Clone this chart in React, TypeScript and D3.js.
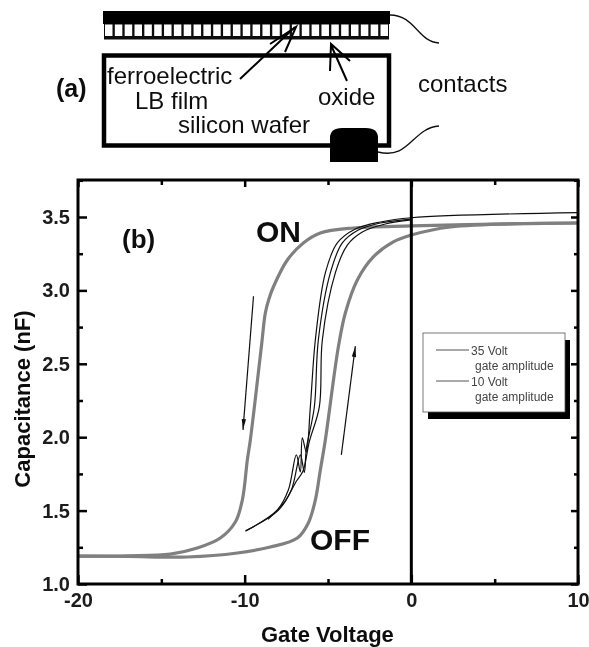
import React, { useEffect, useRef } from 'react';
import * as d3 from 'd3';

type Pt = [number, number];

// gate voltage, capacitance
const onBranch: Pt[] = [[10, 3.459], [5, 3.452], [0, 3.439], [-3.48, 3.425], [-5.46, 3.391], [-6.48, 3.323], [-7.44, 3.207], [-8.28, 3.023], [-8.55, 2.94], [-8.76, 2.846], [-9.0, 2.614], [-9.66, 1.981], [-9.84, 1.845], [-10.14, 1.572], [-10.56, 1.422], [-11.46, 1.313], [-12.84, 1.245], [-14.46, 1.204], [-17, 1.192], [-20, 1.19]];
const offBranch: Pt[] = [[-20, 1.19], [-17, 1.188], [-13.44, 1.184], [-10.44, 1.211], [-8.46, 1.252], [-6.84, 1.313], [-6.18, 1.416], [-5.76, 1.572], [-5.46, 1.777], [-5.16, 1.981], [-4.38, 2.614], [-3.96, 2.846], [-3.24, 3.071], [-2.28, 3.228], [-1.08, 3.33], [0, 3.377], [2.34, 3.432], [10, 3.459]];
const innerA: Pt[] = [[-9.96, 1.36], [-8.04, 1.504], [-7.38, 1.64], [-6.9, 1.879], [-6.66, 1.763], [-6.54, 1.995], [-6.3, 1.9], [-6.06, 2.206], [-5.76, 2.662], [-5.16, 3.119], [-4.44, 3.323], [-3.36, 3.418], [-1.86, 3.466], [0, 3.495], [10, 3.53]];
const innerB: Pt[] = [[-9.9, 1.365], [-8.0, 1.5], [-7.2, 1.64], [-6.66, 1.88], [-6.42, 1.76], [-6.3, 1.92], [-5.82, 2.206], [-5.58, 2.662], [-4.86, 3.119], [-4.14, 3.323], [-3.18, 3.411], [-1.86, 3.459], [0, 3.486]];
const innerC: Pt[] = [[-8.6, 1.44], [-7.6, 1.56], [-6.9, 1.7], [-6.5, 1.77], [-6.12, 1.97], [-5.52, 2.206], [-5.34, 2.662], [-4.56, 3.119], [-3.84, 3.309], [-2.94, 3.398], [-1.56, 3.452], [0, 3.48]];

const xTicks = [-20, -10, 0, 10];
const xMinor = [-15, -5, 5];
const yTicks = [1.0, 1.5, 2.0, 2.5, 3.0, 3.5];
const yMinor = [1.25, 1.75, 2.25, 2.75, 3.25, 3.75];
const legendRows = ['35 Volt', 'gate amplitude', '10 Volt', 'gate amplitude'];
const filmCells = d3.range(29);

const sans = '"Liberation Sans", Arial, sans-serif';

export default function App() {
  const ref = useRef<SVGSVGElement>(null);

  useEffect(() => {
    const svg = d3.select(ref.current);
    svg.selectAll('*').remove();

    const defs = svg.append('defs');
    defs.append('filter').attr('id', 'soft').attr('x', 0).attr('y', 0).attr('width', 1).attr('height', 1)
      .append('feGaussianBlur').attr('stdDeviation', 0.45);

    const root = svg.append('g').attr('filter', 'url(#soft)');
    root.append('rect').attr('width', 589).attr('height', 647).attr('fill', '#fff');

    // panel (a), the device sketch
    const a = root.append('g');
    a.append('rect').attr('x', 103).attr('y', 11).attr('width', 287).attr('height', 13).attr('fill', '#000');
    a.append('rect').attr('x', 104).attr('y', 24).attr('width', 285).attr('height', 15.5).attr('fill', '#111');
    const cellX = d3.scaleBand<number>().domain(filmCells).range([105, 388]).paddingInner(0.24);
    a.selectAll('.cell').data(filmCells).join('rect')
      .attr('x', d => cellX(d)!).attr('y', 24.5).attr('width', cellX.bandwidth()).attr('height', 11.5).attr('fill', '#fff');
    a.append('rect').attr('x', 105).attr('y', 40).attr('width', 283).attr('height', 12).attr('fill', '#fff');
    a.append('rect').attr('x', 104).attr('y', 55.5).attr('width', 285).attr('height', 90)
      .attr('fill', 'none').attr('stroke', '#000').attr('stroke-width', 4.5);
    a.append('path').attr('d', 'M330,162V138Q330,128 342,128H366Q378,128 378,138V162Z').attr('fill', '#000');
    a.append('path').attr('fill', 'none').attr('stroke', '#111').attr('stroke-width', 1.3)
      .attr('d', 'M390,15C415,15 418,42 439,43');
    a.append('path').attr('fill', 'none').attr('stroke', '#111').attr('stroke-width', 1.3)
      .attr('d', 'M378,152C410,160 412,128 439,126');
    a.append('path').attr('fill', 'none').attr('stroke', '#000').attr('stroke-width', 2)
      .attr('d', 'M240,79L295,27M270,44L296,27L285,52');
    a.append('path').attr('fill', 'none').attr('stroke', '#000').attr('stroke-width', 2)
      .attr('d', 'M347,81L331,45M350,61L331,44L330,71');
    const sketchText = (s: string, x: number, y: number, size: number, weight = 'normal') =>
      a.append('text').attr('x', x).attr('y', y).attr('font-family', sans).attr('font-size', size)
        .attr('font-weight', weight).attr('fill', '#111').text(s);
    sketchText('(a)', 56, 97, 25, 'bold');
    sketchText('ferroelectric', 107, 84, 24);
    sketchText('LB film', 135, 109, 24);
    sketchText('silicon wafer', 178, 133, 24);
    sketchText('oxide', 318, 105, 24);
    sketchText('contacts', 418, 92, 24);

    // panel (b), the C-V loops
    const x = d3.scaleLinear().domain([-20, 10]).range([78, 578]);
    const y = d3.scaleLinear().domain([1, 3.752]).range([584, 180]);
    const line = d3.line<Pt>().x(d => x(d[0])).y(d => y(d[1])).curve(d3.curveCatmullRom.alpha(0.5));

    const plot = root.append('g');
    const grayCurves = [onBranch, offBranch];
    plot.selectAll('.gray').data(grayCurves).join('path')
      .attr('d', d => line(d)).attr('fill', 'none').attr('stroke', '#808080').attr('stroke-width', 3.2);
    const thinCurves = [innerA, innerB, innerC];
    plot.selectAll('.thin').data(thinCurves).join('path')
      .attr('d', d => line(d)).attr('fill', 'none').attr('stroke', '#111').attr('stroke-width', 1.2);

    const hyphen = (f: (n: number) => string) => (d: any) => f(d).replace('\u2212', '-');
    const yMajorAxis = d3.axisLeft(y).tickValues(yTicks).tickFormat(d3.format('.1f')).tickSizeInner(-9).tickSizeOuter(0).tickPadding(8);
    const xMajorAxis = d3.axisBottom(x).tickValues(xTicks).tickFormat(hyphen(d3.format('d'))).tickSizeInner(-9).tickSizeOuter(0).tickPadding(9);
    const styleAxis = (g: any) => {
      g.selectAll('.domain').remove();
      g.selectAll('line').attr('stroke', '#000').attr('stroke-width', 2.5);
      g.selectAll('text').attr('font-family', sans).attr('font-size', 20).attr('font-weight', 'bold').attr('fill', '#1a1a1a');
    };
    root.append('g').attr('transform', 'translate(78,0)').call(yMajorAxis).call(styleAxis);
    root.append('g').attr('transform', 'translate(0,584)').call(xMajorAxis).call(styleAxis);
    root.append('g').attr('transform', 'translate(78,0)')
      .call(d3.axisLeft(y).tickValues(yMinor).tickFormat(() => '').tickSizeInner(-5).tickSizeOuter(0)).call(styleAxis);
    root.append('g').attr('transform', 'translate(0,584)')
      .call(d3.axisBottom(x).tickValues(xMinor).tickFormat(() => '').tickSizeInner(-5).tickSizeOuter(0)).call(styleAxis);
    root.append('g').attr('transform', 'translate(578,0)')
      .call(d3.axisRight(y).tickValues(yTicks).tickFormat(() => '').tickSizeInner(-7).tickSizeOuter(0)).call(styleAxis);
    root.append('g').attr('transform', 'translate(578,0)')
      .call(d3.axisRight(y).tickValues(yMinor).tickFormat(() => '').tickSizeInner(-4).tickSizeOuter(0)).call(styleAxis);
    root.append('g').attr('transform', 'translate(0,180)')
      .call(d3.axisTop(x).tickValues(xMinor).tickFormat(() => '').tickSizeInner(-5).tickSizeOuter(0)).call(styleAxis);
    root.append('g').attr('transform', 'translate(0,180)')
      .call(d3.axisTop(x).tickValues(xTicks).tickFormat(() => '').tickSizeInner(-7).tickSizeOuter(0)).call(styleAxis);

    root.append('rect').attr('x', x(-20)).attr('y', y(3.752)).attr('width', x(10) - x(-20)).attr('height', y(1) - y(3.752))
      .attr('fill', 'none').attr('stroke', '#000').attr('stroke-width', 3);
    root.append('line').attr('x1', x(0)).attr('x2', x(0)).attr('y1', y(3.752)).attr('y2', y(1))
      .attr('stroke', '#000').attr('stroke-width', 3);

    // direction arrows
    const arrow = (v0: number, c0: number, v1: number, c1: number) => {
      const angle = Math.atan2(y(c1) - y(c0), x(v1) - x(v0));
      const hx = x(v1), hy = y(c1);
      plot.append('line').attr('x1', x(v0)).attr('y1', y(c0)).attr('x2', hx).attr('y2', hy).attr('stroke', '#111').attr('stroke-width', 1.2);
      const barb = (t: number) => [hx - 11 * Math.cos(angle + t), hy - 11 * Math.sin(angle + t)];
      plot.append('polygon').attr('points', [[hx, hy], barb(0.2), barb(-0.2)].map(p => p.join(',')).join(' ')).attr('fill', '#111');
    };
    arrow(-9.47, 2.96, -10.1, 2.05);
    arrow(-4.2, 1.88, -3.36, 2.62);

    const label = (s: string, px: number, py: number, size: number) =>
      root.append('text').attr('x', px).attr('y', py).attr('font-family', sans).attr('font-size', size)
        .attr('font-weight', 'bold').attr('fill', '#111').text(s);
    label('(b)', 122, 248, 26);
    label('ON', 256, 242, 30);
    label('OFF', 310, 550, 30);
    label('Gate Voltage', 261, 642, 22);
    root.append('text').attr('transform', 'translate(30,399) rotate(-90)').attr('text-anchor', 'middle')
      .attr('font-family', sans).attr('font-size', 22).attr('font-weight', 'bold').attr('fill', '#111').text('Capacitance (nF)');

    // legend box
    root.append('rect').attr('x', 428).attr('y', 340).attr('width', 142).attr('height', 79).attr('fill', '#000');
    root.append('rect').attr('x', 423).attr('y', 333).attr('width', 142).attr('height', 79).attr('fill', '#fff').attr('stroke', '#555').attr('stroke-width', 0.8);
    [350, 381].forEach(ly => root.append('line').attr('x1', 436).attr('x2', 469).attr('y1', ly).attr('y2', ly).attr('stroke', '#555').attr('stroke-width', 1));
    const legendPos: Pt[] = [[471, 354.5], [475, 370], [471, 385.5], [475, 401]];
    legendRows.forEach((s, i) => root.append('text').attr('x', legendPos[i][0]).attr('y', legendPos[i][1])
      .attr('font-family', sans).attr('font-size', 12).attr('fill', '#444').text(s));
  }, []);

  return <svg ref={ref} width={589} height={647} style={{ position: 'absolute', left: 0, top: 0 }} />;
}
